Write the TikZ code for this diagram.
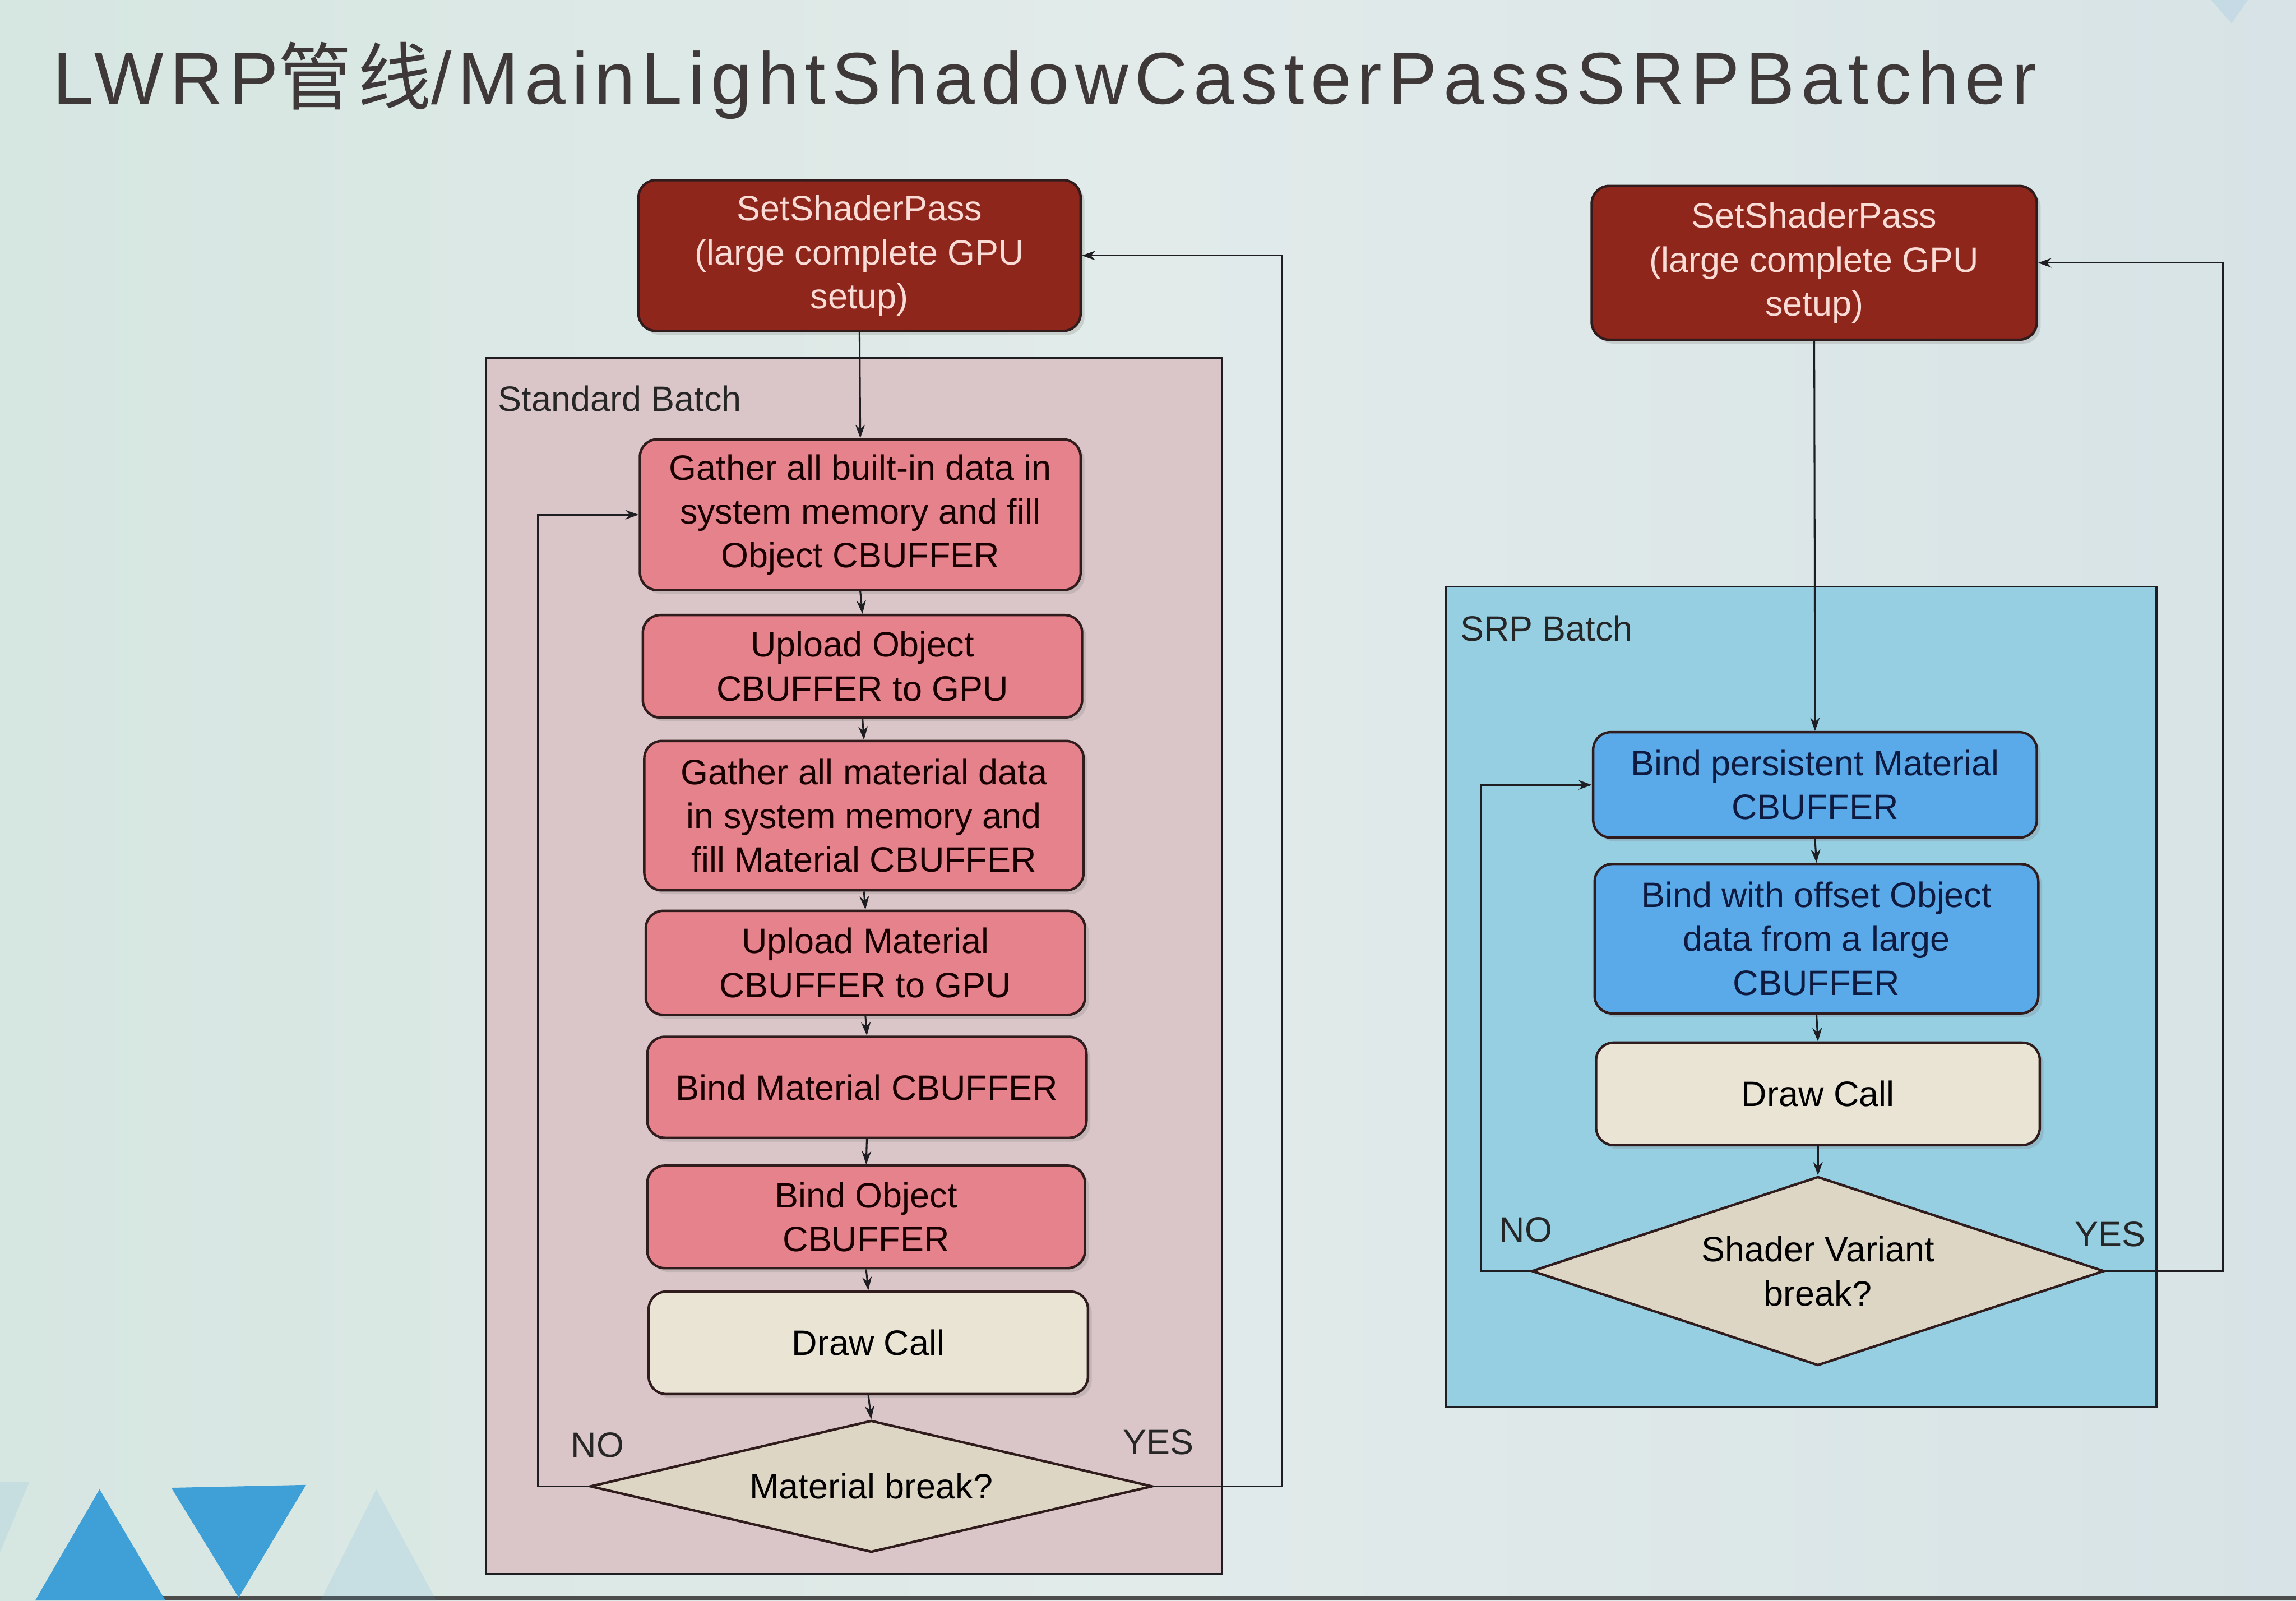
\documentclass[tikz,border=0pt]{standalone}
\usepackage{fontspec}
\setmainfont{Liberation Sans}
\newfontfamily\cjk[LetterSpace=8]{Noto Sans CJK SC}
\newfontfamily\titlefont[LetterSpace=8.5]{Liberation Sans}
\usetikzlibrary{shapes.geometric,arrows.meta,shadows}
\definecolor{bgA}{RGB}{214,230,225}
\definecolor{bgB}{RGB}{226,235,234}
\definecolor{bgC}{RGB}{215,227,230}
\definecolor{darkred}{RGB}{142,38,28}
\definecolor{darkredtext}{RGB}{250,220,214}
\definecolor{pinkbox}{RGB}{229,130,140}
\definecolor{creambox}{RGB}{234,228,212}
\definecolor{diamondc}{RGB}{222,214,196}
\definecolor{stdbg}{RGB}{218,198,200}
\definecolor{srpbg}{RGB}{150,206,226}
\definecolor{bluebox}{RGB}{90,170,234}
\definecolor{navytext}{RGB}{14,26,64}
\definecolor{edgec}{RGB}{48,28,28}
\definecolor{linec}{RGB}{30,30,34}
\definecolor{tri}{RGB}{62,160,215}
\definecolor{titlec}{RGB}{62,56,56}
\newcommand\uu{0.02699cm}
\tikzset{
  boxtext/.style={font=\fontsize{18.5}{23}\selectfont, align=center},
  basebox/.style={rectangle, rounded corners=12*\uu, line width=1.3pt, draw=edgec, boxtext, inner sep=0pt,
    drop shadow={opacity=0.25, shadow xshift=2pt, shadow yshift=-2pt}},
  redbox/.style={basebox, fill=darkred, text=darkredtext},
  pinkb/.style={basebox, fill=pinkbox, text=black!90!red},
  creamb/.style={basebox, fill=creambox, text=black},
  blueb/.style={basebox, fill=bluebox, text=navytext},
  decision/.style={diamond, draw=edgec, line width=1.3pt, fill=diamondc, boxtext, inner sep=0pt, text=black},
  container/.style={rectangle, draw=linec, line width=1pt, inner sep=0pt},
  conn/.style={draw=linec, line width=0.9pt, -{Stealth[length=7pt,width=5pt]}},
  lbl/.style={font=\fontsize{18.5}{23}\selectfont, text=black!85, inner sep=0pt},
}
\begin{document}
\begin{tikzpicture}[x=0.02699cm, y=-0.02699cm]
\useasboundingbox (0,0) rectangle (1568,1093);
% background
\shade[left color=bgA, right color=bgC, middle color=bgB, shading angle=90] (0,0) rectangle (1568,1093);
\fill[black!70] (110,1090) rectangle (1568,1093);
% decorative triangles
\fill[tri] (68,1017) -- (113,1093) -- (24,1093) -- cycle;
\fill[tri] (117,1016) -- (209,1014) -- (163,1091) -- cycle;
\fill[tri, opacity=0.12] (257,1017) -- (298,1093) -- (219,1093) -- cycle;
\fill[tri, opacity=0.10] (0,1012) -- (20,1012) -- (0,1060) -- cycle;
\fill[tri, opacity=0.12] (1510,0) -- (1535,0) -- (1524,16) -- cycle;
% title
\node[anchor=base west, inner sep=0pt, text=titlec, font=\titlefont\fontsize{38.5}{40}\selectfont] (title) at (36,71)
  {LWRP{\cjk 管线}/MainLightShadowCasterPassSRPBatcher};

% ===== left: standard batch =====
\node[container, fill=stdbg, minimum width=503*\uu, minimum height=830*\uu, anchor=north west] (std) at (331,244) {};
\node[lbl, anchor=west] (stdl) at (340,272) {Standard Batch};
\node[redbox, minimum width=302*\uu, minimum height=103*\uu] (ssp1) at (587,174.5)
  {SetShaderPass\\(large complete GPU\\setup)};
\node[pinkb, minimum width=301*\uu, minimum height=103*\uu] (g1) at (587.5,351.5)
  {Gather all built-in data in\\system memory and fill\\Object CBUFFER};
\node[pinkb, minimum width=300*\uu, minimum height=70*\uu] (uo) at (589,455)
  {Upload Object\\CBUFFER to GPU};
\node[pinkb, minimum width=300*\uu, minimum height=102*\uu] (gm) at (590,557)
  {Gather all material data\\in system memory and\\fill Material CBUFFER};
\node[pinkb, minimum width=300*\uu, minimum height=71*\uu] (um) at (591,657.5)
  {Upload Material\\CBUFFER to GPU};
\node[pinkb, minimum width=300*\uu, minimum height=69*\uu] (bm) at (592,742.5)
  {Bind Material CBUFFER};
\node[pinkb, minimum width=299*\uu, minimum height=70*\uu] (bo) at (591.5,831)
  {Bind Object\\CBUFFER};
\node[creamb, minimum width=300*\uu, minimum height=70*\uu] (dc1) at (593,917)
  {Draw Call};
\node[decision, minimum width=384*\uu, minimum height=90*\uu, aspect=4.27] (mb) at (595,1015)
  {Material break?};
\node[lbl] (no1) at (408,987) {NO};
\node[lbl] (yes1) at (791,985) {YES};

\draw[conn] (ssp1.south) -- (g1.north);
\draw[conn] (g1.south) -- (uo.north);
\draw[conn] (uo.south) -- (gm.north);
\draw[conn] (gm.south) -- (um.north);
\draw[conn] (um.south) -- (bm.north);
\draw[conn] (bm.south) -- (bo.north);
\draw[conn] (bo.south) -- (dc1.north);
\draw[conn] (dc1.south) -- (mb.north);
\draw[conn] (mb.west) -- ++(-35,0) |- (g1.west);
\draw[conn] (mb.east) -- ++(88,0) |- (ssp1.east);

% ===== right: SRP batch =====
\node[container, fill=srpbg, minimum width=485*\uu, minimum height=560*\uu, anchor=north west] (srp) at (987,400) {};
\node[lbl, anchor=west] (srpl) at (997,429) {SRP Batch};
\node[redbox, minimum width=304*\uu, minimum height=105*\uu] (ssp2) at (1239,179.5)
  {SetShaderPass\\(large complete GPU\\setup)};
\node[blueb, minimum width=303*\uu, minimum height=72*\uu] (bp) at (1239.5,536)
  {Bind persistent Material\\CBUFFER};
\node[blueb, minimum width=303*\uu, minimum height=102*\uu] (bw) at (1240.5,641)
  {Bind with offset Object\\data from a large\\CBUFFER};
\node[creamb, minimum width=303*\uu, minimum height=70*\uu] (dc2) at (1241.5,747)
  {Draw Call};
\node[decision, minimum width=391*\uu, minimum height=129*\uu, aspect=3.03] (sv) at (1241.5,868)
  {Shader Variant\\break?};
\node[lbl] (no2) at (1042,840) {NO};
\node[lbl] (yes2) at (1441,843) {YES};

\draw[conn] (ssp2.south) -- (bp.north);
\draw[conn] (bp.south) -- (bw.north);
\draw[conn] (bw.south) -- (dc2.north);
\draw[conn] (dc2.south) -- (sv.north);
\draw[conn] (sv.west) -- ++(-34,0) |- (bp.west);
\draw[conn] (sv.east) -- ++(80,0) |- (ssp2.east);
\end{tikzpicture}
\end{document}
